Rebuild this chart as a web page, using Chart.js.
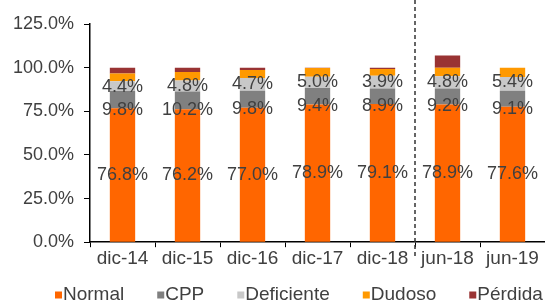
<!DOCTYPE html>
<html>
<head>
<meta charset="utf-8">
<script src="https://cdn.jsdelivr.net/npm/chart.js@4"></script>
<style>
  html, body { margin: 0; padding: 0; background: #fff; }
  #wrap { width: 545px; height: 303px; position: relative; }
</style>
</head>
<body>
<div id="wrap"><canvas id="chart"></canvas></div>
<script>
// categories and series (percent of portfolio)
const categories = ['dic-14', 'dic-15', 'dic-16', 'dic-17', 'dic-18', 'jun-18', 'jun-19'];
const normal     = [76.8, 76.2, 77.0, 78.9, 79.1, 78.9, 77.6];
const cpp        = [9.8, 10.2, 9.8, 9.4, 8.9, 9.2, 9.1];
const deficiente = [5.6, 6.3, 7.2, 6.5, 7.3, 7.0, 7.9];
const dudoso     = [4.4, 4.8, 4.7, 5.0, 3.9, 4.8, 5.4];
const perdida    = [3.4, 2.5, 1.3, 0.2, 0.8, 7.0, 0.0];
const yTicks     = [0, 25, 50, 75, 100, 125];

const txt = '#404040';
const font = 'Liberation Sans';

// value labels on Normal, CPP and Dudoso segments
const labelPlugin = {
  id: 'segLabels',
  afterDatasetsDraw(chart) {
    const ctx = chart.ctx;
    ctx.save();
    ctx.font = '18px "' + font + '"';
    ctx.fillStyle = txt;
    ctx.textAlign = 'center';
    ctx.textBaseline = 'middle';
    chart.data.datasets.forEach((ds, di) => {
      if (!ds.showLabel) return;
      chart.getDatasetMeta(di).data.forEach((bar, i) => {
        const y = (bar.y + bar.base) / 2 + ds.labelShift;
        ctx.fillText(ds.data[i].toFixed(1) + '%', bar.x, y);
      });
    });
    ctx.restore();
  }
};

// dashed separator between dic-18 and jun-18
const dividerPlugin = {
  id: 'divider',
  afterDraw(chart) {
    const xs = chart.scales.x;
    const x = (xs.getPixelForValue(4) + xs.getPixelForValue(5)) / 2;
    const ctx = chart.ctx;
    ctx.save();
    ctx.strokeStyle = '#333';
    ctx.lineWidth = 1.5;
    ctx.setLineDash([4, 3]);
    ctx.beginPath();
    ctx.moveTo(x, 0);
    ctx.lineTo(x, chart.chartArea.bottom + 16);
    ctx.stroke();
    ctx.restore();
  }
};

// legend with small square markers set close to their text
const legendPlugin = {
  id: 'tightLegend',
  afterDraw(chart) {
    const ctx = chart.ctx;
    ctx.save();
    ctx.font = '19px "' + font + '"';
    ctx.textBaseline = 'middle';
    ctx.textAlign = 'left';
    const y = 295;
    let x = 55;
    chart.data.datasets.forEach(ds => {
      ctx.fillStyle = ds.backgroundColor;
      ctx.fillRect(x, y - 3.5, 7, 7);
      ctx.fillStyle = txt;
      ctx.fillText(ds.label, x + 8, y);
      x += 8 + ctx.measureText(ds.label).width + 33;
    });
    ctx.restore();
  }
};

function series(label, data, color, showLabel, labelShift) {
  return { label, data, backgroundColor: color, borderWidth: 0,
           barPercentage: 0.39, categoryPercentage: 1.0,
           showLabel, labelShift };
}

new Chart(document.getElementById('chart'), {
  type: 'bar',
  data: {
    labels: categories,
    datasets: [
      series('Normal', normal, '#FF6600', true, 0),
      series('CPP', cpp, '#808080', true, 10),
      series('Deficiente', deficiente, '#C8C8C8', false, 0),
      series('Dudoso', dudoso, '#FF9900', true, 10),
      series('Pérdida', perdida, '#993333', false, 0)
    ]
  },
  options: {
    responsive: true,
    maintainAspectRatio: false,
    animation: false,
    layout: { padding: { top: 24, right: 0, left: 0, bottom: 33 } },
    plugins: {
      legend: { display: false },
      tooltip: { enabled: false }
    },
    scales: {
      x: {
        stacked: true,
        border: { color: '#000', width: 1.5 },
        grid: { drawOnChartArea: false, drawTicks: true, tickLength: 5, color: '#000', offset: true },
        ticks: { color: txt, font: { family: font, size: 19 }, padding: 0 }
      },
      y: {
        stacked: true,
        min: 0, max: 125,
        afterFit(s) { s.width = 90; },
        afterBuildTicks(s) { s.ticks = yTicks.map(v => ({ value: v })); },
        border: { color: '#000', width: 1.5 },
        grid: { drawOnChartArea: false, drawTicks: true, tickLength: 6, color: '#000' },
        ticks: {
          color: txt, font: { family: font, size: 18 }, padding: 10,
          callback: v => v.toFixed(1) + '%'
        }
      }
    }
  },
  plugins: [labelPlugin, dividerPlugin, legendPlugin]
});
</script>
</body>
</html>
